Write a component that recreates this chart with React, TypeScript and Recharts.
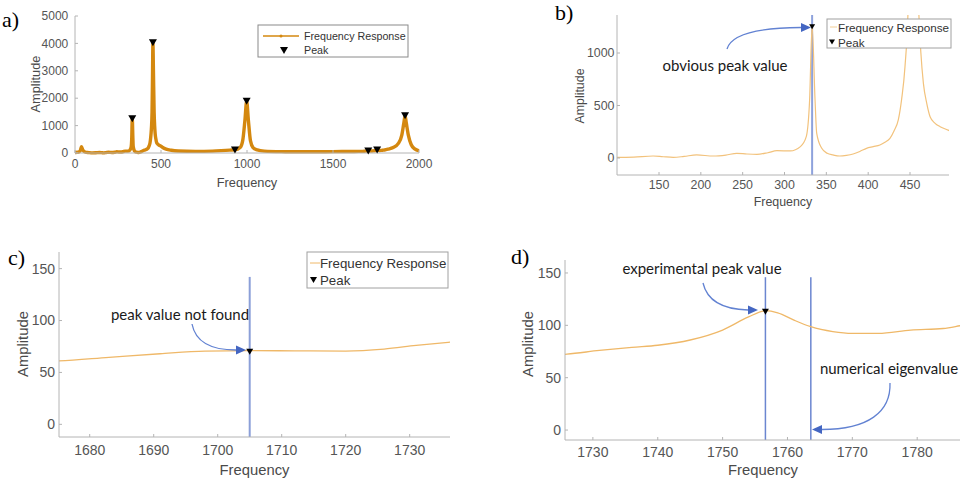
import React from "react"
import { ComposedChart, Line, ReferenceLine, XAxis, YAxis } from "recharts"

// frequency response (merged, denser where zoomed)
const responseFreq = [
  0, 15, 30, 38, 45, 60, 80, 101, 120, 143, 155, 167, 180, 195, 215, 230, 243, 255, 267, 280,
  291, 307, 319, 326, 330, 333, 336.5, 338.5, 344.5, 351, 358, 366, 374, 382, 390, 398, 406,
  414, 420, 426, 431, 436, 440, 444, 448, 451, 453, 456, 460, 463, 466, 470, 474, 480, 486, 497,
  510, 530, 560, 600, 700, 800, 850, 900, 930, 960, 975, 988, 998, 1008, 1020, 1035, 1060, 1100,
  1200, 1300, 1400, 1500, 1600, 1650, 1675, 1683, 1691, 1698, 1705, 1712, 1720, 1726, 1731,
  1736, 1740, 1745, 1750, 1754, 1756.6, 1758.5, 1761, 1763.6, 1767, 1770, 1774, 1779, 1784,
  1787, 1800, 1820, 1850, 1880, 1900, 1912, 1919, 1926, 1938, 1955, 1975, 2000,
]
const responseAmp = [
  20, 25, 80, 230, 110, 30, 15, 5, 8, 19, 12, 6, 15, 29, 19, 28, 44, 38, 35, 50,
  70, 67, 108, 203, 552, 1260, 552, 235, 92, 45, 29, 19, 25, 38, 62, 92, 108,
  124, 150, 187, 260, 362, 560, 870, 1500, 3000, 4020, 3000, 1500, 1000, 711, 520, 393, 330, 298, 260,
  200, 140, 100, 75, 60, 70, 85, 105, 115, 200, 450, 1200, 1890, 1200, 450, 200, 110, 70,
  50, 45, 45, 50, 55, 58, 61, 64.5, 68, 70.5, 71, 70.8, 70.6, 72.5, 76,
  79, 81, 86, 95.5, 108, 114, 112, 105, 98.7, 94, 92.3, 92.3, 95.5, 97,
  100, 110, 140, 200, 350, 650, 1100, 1360, 1100, 650, 300, 150, 80,
]

// peaks found by the peak search
const peakFreq = [333, 453, 930, 998, 1705, 1756.6, 1919]
const peakAmp = [1250, 4020, 110, 1890, 70, 113, 1360]

// blue cursor lines
const cursorsB = [333]
const cursorsC = [1705]
const cursorsD = [1756.6, 1763.6]

const ticksAx = [0, 500, 1000, 1500, 2000]
const ticksAy = [0, 1000, 2000, 3000, 4000, 5000]
const ticksBx = [150, 200, 250, 300, 350, 400, 450]
const ticksBy = [0, 500, 1000]
const ticksCx = [1680, 1690, 1700, 1710, 1720, 1730]
const ticksDx = [1730, 1740, 1750, 1760, 1770, 1780]
const ticksCDy = [0, 50, 100, 150]

const response = responseFreq.map((f, i) => ({ f, amp: responseAmp[i] }))
const peaks = peakFreq.map((f, i) => ({ f, amp: peakAmp[i] }))

const axisFont = "'Liberation Sans', Arial, sans-serif"
const noteFont = "Lato, 'Open Sans', sans-serif"
const letterFont = "'Liberation Serif', 'Times New Roman', serif"
const axisGray = "#b4b4b4"
const tickGray = "#555"

function triangleDot(w: number, h: number) {
  return (props: any) => {
    const { cx, cy, index } = props
    if (cx == null || cy == null) return <g key={`t-${index}`} />
    return (
      <path
        key={`t-${index}`}
        d={`M${cx - w / 2},${cy - h / 2}H${cx + w / 2}L${cx},${cy + h / 2}Z`}
        fill="#000"
      />
    )
  }
}

type PanelProps = {
  left: number
  top: number
  width: number
  height: number
  marginTop: number
  marginRight: number
  yAxisWidth: number
  xAxisHeight: number
  xDomain: [number, number]
  yDomain: [number, number]
  xTicks: number[]
  yTicks: number[]
  fontSize: number
  xGap: number
  yGap: number
  stroke: string
  strokeWidth: number
  marker: [number, number]
  clip: boolean
  cursors?: number[]
  cursorTop?: number
  cursorColor?: string
  cursorWidth?: number
}

function Panel(p: PanelProps) {
  const tick = { fontSize: p.fontSize, fill: tickGray, fontFamily: axisFont }
  return (
    <div style={{ position: "absolute", left: p.left, top: p.top, width: p.width, height: p.height }}>
      <ComposedChart
        width={p.width}
        height={p.height}
        margin={{ top: p.marginTop, right: p.marginRight, bottom: 0, left: 0 }}
        style={{ fontFamily: axisFont }}
      >
        <XAxis
          dataKey="f"
          type="number"
          domain={p.xDomain}
          ticks={p.xTicks}
          interval={0}
          allowDataOverflow={p.clip}
          height={p.xAxisHeight}
          tick={tick}
          tickSize={-3}
          tickMargin={p.xGap + 3}
          axisLine={{ stroke: axisGray }}
          tickLine={{ stroke: axisGray }}
        />
        <YAxis
          type="number"
          domain={p.yDomain}
          ticks={p.yTicks}
          interval={0}
          allowDataOverflow={p.clip}
          width={p.yAxisWidth}
          tick={tick}
          tickSize={-3}
          tickMargin={p.yGap + 3}
          axisLine={{ stroke: axisGray }}
          tickLine={{ stroke: axisGray }}
        />
        {(p.cursors ?? []).map((x) => (
          <ReferenceLine
            key={x}
            segment={[
              { x, y: p.yDomain[0] },
              { x, y: p.cursorTop ?? p.yDomain[1] },
            ]}
            stroke={p.cursorColor}
            strokeWidth={p.cursorWidth}
          />
        ))}
        <Line
          data={response}
          dataKey="amp"
          type="monotone"
          stroke={p.stroke}
          strokeWidth={p.strokeWidth}
          dot={false}
          activeDot={false}
          isAnimationActive={false}
        />
        <Line
          data={peaks}
          dataKey="amp"
          stroke="none"
          dot={triangleDot(p.marker[0], p.marker[1])}
          activeDot={false}
          isAnimationActive={false}
        />
      </ComposedChart>
    </div>
  )
}

function Arrow({ d, tip, dir }: { d: string; tip: [number, number]; dir: [number, number] }) {
  const [tx, ty] = tip
  const [dx, dy] = dir
  const L = 10
  const W = 4.5
  const bx = tx - dx * L
  const by = ty - dy * L
  const pts = `${tx},${ty} ${bx - dy * W},${by + dx * W} ${bx + dy * W},${by - dx * W}`
  return (
    <g>
      <path d={d} fill="none" stroke="#6282d2" strokeWidth={1.3} />
      <polygon points={pts} fill="#4466c2" />
    </g>
  )
}

function Tri({ x, y, w, h }: { x: number; y: number; w: number; h: number }) {
  return <path d={`M${x - w / 2},${y - h / 2}H${x + w / 2}L${x},${y + h / 2}Z`} fill="#000" />
}

function AxisTitles({ fx, fy, ax, ay, size }: { fx: number; fy: number; ax: number; ay: number; size: number }) {
  return (
    <g fontFamily={axisFont} fill="#4a4a4a" fontSize={size}>
      <text x={fx} y={fy} textAnchor="middle" dominantBaseline="central">
        Frequency
      </text>
      <text x={ax} y={ay} textAnchor="middle" dominantBaseline="central" transform={`rotate(-90 ${ax} ${ay})`}>
        Amplitude
      </text>
    </g>
  )
}

function Overlay() {
  return (
    <svg
      width={960}
      height={481}
      style={{ position: "absolute", left: 0, top: 0, pointerEvents: "none" }}
    >
      <g fontFamily={letterFont} fontSize={22} fill="#000">
        <text x={2} y={27}>a)</text>
        <text x={555} y={20}>b)</text>
        <text x={8} y={265}>c)</text>
        <text x={511} y={264}>d)</text>
      </g>

      <AxisTitles fx={247} fy={182} ax={35} ay={84} size={12.8} />
      <AxisTitles fx={783} fy={202} ax={580} ay={96} size={12.4} />
      <AxisTitles fx={254.5} fy={470} ax={22.5} ay={344} size={14.8} />
      <AxisTitles fx={763} fy={470} ax={528} ay={344} size={14.8} />

      {/* legend a */}
      <rect x={258} y={25} width={150} height={32} fill="#fff" stroke="#8a8a8a" strokeWidth={1} />
      <line x1={263} y1={36} x2={299} y2={36} stroke="#d4880f" strokeWidth={1.3} />
      <circle cx={281} cy={36} r={1.5} fill="#d4880f" />
      <Tri x={284} y={50.5} w={8} h={7} />
      <g fontFamily={axisFont} fontSize={10.7} fill="#333">
        <text x={304} y={36} dominantBaseline="central">Frequency Response</text>
        <text x={304} y={50} dominantBaseline="central">Peak</text>
      </g>

      {/* legend b */}
      <rect x={827} y={19} width={124} height={29} fill="#fff" stroke="#a0a0a0" strokeWidth={1} />
      <line x1={830} y1={27} x2={837} y2={27} stroke="#f3cf96" strokeWidth={1} />
      <Tri x={832} y={42} w={6} h={5} />
      <g fontFamily={axisFont} fontSize={11.7} fill="#333">
        <text x={838} y={27} dominantBaseline="central">Frequency Response</text>
        <text x={838} y={42} dominantBaseline="central">Peak</text>
      </g>

      {/* legend c */}
      <rect x={307} y={252} width={141} height={36} fill="#fff" stroke="#a0a0a0" strokeWidth={1} />
      <line x1={310} y1={263} x2={320} y2={263} stroke="#efb868" strokeWidth={1} />
      <Tri x={313.5} y={280} w={7} h={6} />
      <g fontFamily={axisFont} fontSize={13.3} fill="#333">
        <text x={320} y={263} dominantBaseline="central">Frequency Response</text>
        <text x={320} y={280} dominantBaseline="central">Peak</text>
      </g>

      {/* annotations */}
      <g fontFamily={noteFont} fontSize={15} fill="#1a1a1a">
        <text x={725} y={65} textAnchor="middle" dominantBaseline="central">obvious peak value</text>
        <text x={180} y={314} textAnchor="middle" dominantBaseline="central">peak value not found</text>
        <text x={702} y={268} textAnchor="middle" dominantBaseline="central">experimental peak value</text>
        <text x={889} y={368} textAnchor="middle" dominantBaseline="central">numerical eigenvalue</text>
      </g>
      <Arrow d="M727,49 Q733,28 801,27.5" tip={[811, 27.5]} dir={[1, 0]} />
      <Arrow d="M192,324 Q197,350 236,350" tip={[246, 350]} dir={[1, 0]} />
      <Arrow d="M703,283 Q709,309 748,310" tip={[758, 310]} dir={[1, 0]} />
      <Arrow d="M890,383 C891,412 868,429.5 822,429.5" tip={[812, 429.5]} dir={[-1, 0]} />
    </svg>
  )
}

export default function App() {
  return (
    <div style={{ position: "absolute", left: 0, top: 0, width: 960, height: 481, background: "#fff", overflow: "hidden" }}>
      <Panel
        left={0}
        top={0}
        width={445}
        height={200}
        marginTop={16}
        marginRight={26}
        yAxisWidth={75}
        xAxisHeight={47}
        xDomain={[0, 2000]}
        yDomain={[0, 5000]}
        xTicks={ticksAx}
        yTicks={ticksAy}
        fontSize={12}
        xGap={6.7}
        yGap={6.7}
        stroke="#d4880f"
        strokeWidth={3.4}
        marker={[8, 7]}
        clip={false}
      />
      <Panel
        left={480}
        top={0}
        width={470}
        height={215}
        marginTop={15}
        marginRight={1}
        yAxisWidth={137}
        xAxisHeight={40}
        xDomain={[99.8, 496.6]}
        yDomain={[-162, 1362]}
        xTicks={ticksBx}
        yTicks={ticksBy}
        fontSize={12.4}
        xGap={5.6}
        yGap={2.5}
        stroke="#f2c27c"
        strokeWidth={1.2}
        marker={[6, 5]}
        clip
        cursors={cursorsB}
        cursorColor="#8ea2dc"
        cursorWidth={2}
      />
      <Panel
        left={0}
        top={240}
        width={460}
        height={241}
        marginTop={12}
        marginRight={10}
        yAxisWidth={59}
        xAxisHeight={44}
        xDomain={[1675.2, 1736.3]}
        yDomain={[-12.2, 166]}
        xTicks={ticksCx}
        yTicks={ticksCDy}
        fontSize={14}
        xGap={8}
        yGap={4}
        stroke="#efb868"
        strokeWidth={1.3}
        marker={[7, 6]}
        clip
        cursors={cursorsC}
        cursorTop={142}
        cursorColor="#8b9fd8"
        cursorWidth={2}
      />
      <Panel
        left={480}
        top={240}
        width={480}
        height={241}
        marginTop={20}
        marginRight={0}
        yAxisWidth={85}
        xAxisHeight={41}
        xDomain={[1725.7, 1786.6]}
        yDomain={[-9.5, 162.4]}
        xTicks={ticksDx}
        yTicks={ticksCDy}
        fontSize={14}
        xGap={6.7}
        yGap={4}
        stroke="#efb868"
        strokeWidth={1.3}
        marker={[7, 6]}
        clip
        cursors={cursorsD}
        cursorTop={146}
        cursorColor="#6b86d0"
        cursorWidth={1.5}
      />
      <Overlay />
    </div>
  )
}
